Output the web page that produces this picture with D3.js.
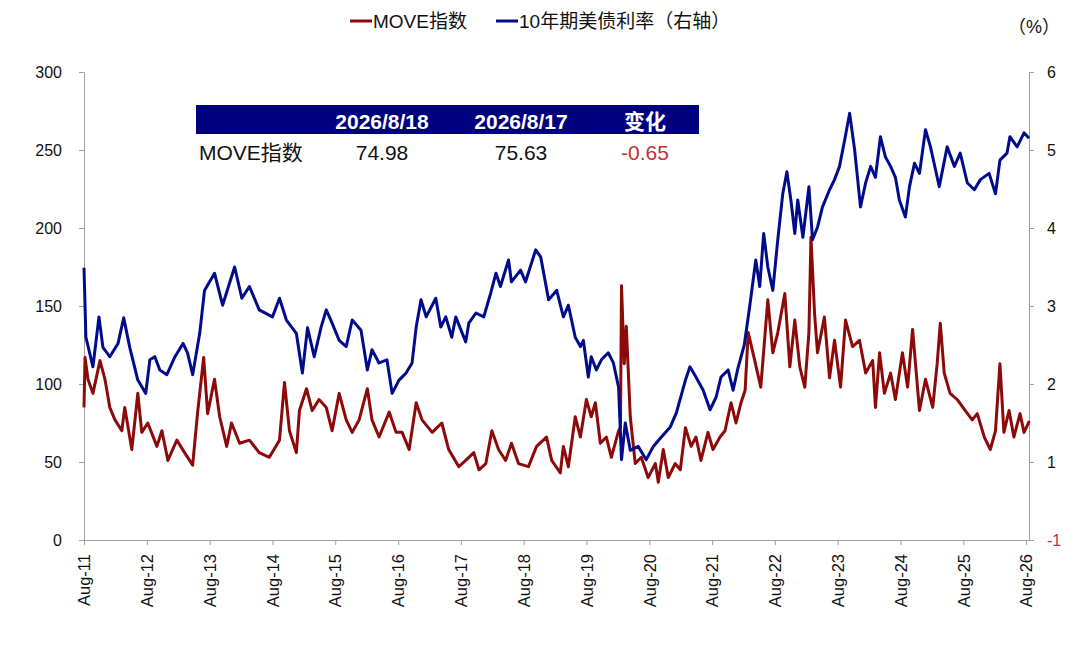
<!DOCTYPE html>
<html lang="zh">
<head>
  <meta charset="UTF-8">
  <title>MOVE指数与10年期美债利率</title>
  <script src="https://cdnjs.cloudflare.com/ajax/libs/d3/7.8.5/d3.min.js"></script>
  <style>
    body { margin: 0; background: white; }
    svg { display: block; }
    text { font-family: "Liberation Sans", Arial, "Noto Sans CJK SC", sans-serif; }
  </style>
</head>
<body>
  <script>
    // MOVE指数（左轴）
    var moveSeries = [
      ["2011-08-01", 85], ["2011-08-07", 117], ["2011-08-24", 103], ["2011-09-22", 94],
      ["2011-11-02", 115], ["2011-12-01", 103], ["2011-12-29", 85], ["2012-01-28", 77],
      ["2012-03-08", 70], ["2012-03-25", 85], ["2012-05-05", 58], ["2012-06-09", 94],
      ["2012-07-02", 69], ["2012-08-06", 75], ["2012-09-28", 60], ["2012-10-27", 70],
      ["2012-12-01", 51], ["2013-01-22", 64], ["2013-03-08", 56], ["2013-04-24", 48],
      ["2013-05-22", 81], ["2013-06-27", 117], ["2013-07-20", 81], ["2013-08-29", 103],
      ["2013-09-28", 79], ["2013-11-08", 60], ["2013-12-06", 75], ["2014-01-22", 62],
      ["2014-03-20", 64], ["2014-05-16", 56], ["2014-07-14", 53], ["2014-09-11", 64],
      ["2014-10-10", 101], ["2014-11-08", 70], ["2014-12-18", 56], ["2015-01-05", 83],
      ["2015-02-15", 97], ["2015-03-20", 83], ["2015-04-29", 90], ["2015-06-10", 85],
      ["2015-07-14", 70], ["2015-08-24", 94], ["2015-10-04", 77], ["2015-11-08", 69],
      ["2015-12-18", 77], ["2016-02-04", 97], ["2016-03-02", 77], ["2016-04-12", 66],
      ["2016-06-10", 82], ["2016-07-20", 69], ["2016-08-24", 69], ["2016-10-04", 58],
      ["2016-11-14", 88], ["2016-12-18", 77], ["2017-02-15", 69], ["2017-04-12", 75],
      ["2017-05-22", 58], ["2017-07-20", 47], ["2017-08-29", 51], ["2017-10-15", 56],
      ["2017-11-14", 45], ["2017-12-24", 49], ["2018-01-28", 70], ["2018-03-08", 58],
      ["2018-04-18", 51], ["2018-05-22", 62], ["2018-07-02", 49], ["2018-08-29", 47],
      ["2018-10-15", 60], ["2018-12-12", 66], ["2019-01-11", 51], ["2019-03-02", 43],
      ["2019-03-20", 60], ["2019-04-18", 47], ["2019-05-28", 79], ["2019-06-27", 66],
      ["2019-08-01", 90], ["2019-08-29", 79], ["2019-09-22", 88], ["2019-10-21", 62],
      ["2019-11-25", 66], ["2019-12-24", 53], ["2020-02-04", 70], ["2020-02-15", 72],
      ["2020-02-21", 163], ["2020-03-08", 113], ["2020-03-20", 137], ["2020-04-12", 79],
      ["2020-05-11", 49], ["2020-06-15", 53], ["2020-07-25", 40], ["2020-09-05", 49],
      ["2020-09-22", 37], ["2020-10-21", 58], ["2020-11-19", 40], ["2020-12-29", 49],
      ["2021-01-28", 45], ["2021-02-27", 72], ["2021-04-01", 60], ["2021-04-29", 66],
      ["2021-05-28", 51], ["2021-07-08", 69], ["2021-08-06", 58], ["2021-09-16", 66],
      ["2021-10-15", 70], ["2021-11-19", 88], ["2021-12-18", 75], ["2022-01-16", 88],
      ["2022-02-09", 96], ["2022-02-27", 133], ["2022-04-06", 115], ["2022-05-11", 98],
      ["2022-06-21", 154], ["2022-07-20", 120], ["2022-08-18", 133], ["2022-09-28", 158],
      ["2022-10-27", 111], ["2022-11-25", 141], ["2022-12-24", 111], ["2023-01-22", 98],
      ["2023-02-15", 133], ["2023-02-27", 194], ["2023-03-20", 145], ["2023-04-06", 120],
      ["2023-05-16", 143], ["2023-06-15", 104], ["2023-07-14", 128], ["2023-08-18", 98],
      ["2023-09-16", 141], ["2023-10-27", 124], ["2023-12-06", 128], ["2024-01-11", 107],
      ["2024-02-21", 115], ["2024-03-08", 85], ["2024-04-01", 120], ["2024-04-29", 94],
      ["2024-06-04", 107], ["2024-07-02", 90], ["2024-08-12", 120], ["2024-09-11", 98],
      ["2024-10-10", 135], ["2024-11-19", 83], ["2024-12-24", 103], ["2025-02-04", 85],
      ["2025-03-02", 113], ["2025-03-20", 139], ["2025-04-12", 107], ["2025-05-16", 94],
      ["2025-06-27", 90], ["2025-08-12", 83], ["2025-09-22", 77], ["2025-10-21", 81],
      ["2025-12-01", 66], ["2026-01-05", 58], ["2026-02-04", 70], ["2026-03-02", 113],
      ["2026-03-25", 69], ["2026-04-24", 83], ["2026-05-22", 66], ["2026-06-27", 81],
      ["2026-07-20", 69], ["2026-08-17", 75.63], ["2026-08-18", 74.98]
    ];

    // 10年期美债利率（右轴，%）
    var yieldSeries = [
      ["2011-08-01", 3.49], ["2011-08-12", 2.6], ["2011-09-22", 2.22], ["2011-10-27", 2.86],
      ["2011-11-19", 2.47], ["2011-12-29", 2.35], ["2012-02-15", 2.52], ["2012-03-19", 2.85],
      ["2012-04-23", 2.47], ["2012-06-09", 2.05], ["2012-07-25", 1.88], ["2012-08-18", 2.31],
      ["2012-09-16", 2.35], ["2012-10-15", 2.18], ["2012-11-25", 2.12], ["2013-01-11", 2.35],
      ["2013-02-27", 2.52], ["2013-03-25", 2.4], ["2013-04-24", 2.12], ["2013-06-04", 2.65],
      ["2013-07-02", 3.2], ["2013-08-29", 3.42], ["2013-10-15", 3.01], ["2013-12-24", 3.5],
      ["2014-02-04", 3.1], ["2014-03-20", 3.25], ["2014-05-16", 2.95], ["2014-08-01", 2.86],
      ["2014-09-11", 3.1], ["2014-10-21", 2.82], ["2014-12-18", 2.65], ["2015-01-22", 2.14],
      ["2015-02-21", 2.72], ["2015-04-01", 2.35], ["2015-05-11", 2.73], ["2015-06-10", 2.95],
      ["2015-07-14", 2.78], ["2015-08-24", 2.56], ["2015-10-04", 2.48], ["2015-11-08", 2.82],
      ["2015-12-29", 2.69], ["2016-02-04", 2.18], ["2016-03-02", 2.44], ["2016-04-12", 2.27],
      ["2016-05-28", 2.31], ["2016-06-27", 1.88], ["2016-08-06", 2.05], ["2016-09-16", 2.14],
      ["2016-10-21", 2.27], ["2016-11-14", 2.73], ["2016-12-12", 3.08], ["2017-01-11", 2.86],
      ["2017-03-08", 3.1], ["2017-04-06", 2.73], ["2017-05-05", 2.86], ["2017-06-09", 2.6],
      ["2017-07-02", 2.86], ["2017-08-29", 2.54], ["2017-09-16", 2.78], ["2017-10-27", 2.91],
      ["2017-12-12", 2.86], ["2018-01-22", 3.17], ["2018-02-21", 3.42], ["2018-03-19", 3.25],
      ["2018-05-05", 3.59], ["2018-05-22", 3.31], ["2018-07-14", 3.46], ["2018-08-12", 3.31],
      ["2018-10-10", 3.72], ["2018-11-08", 3.63], ["2018-12-24", 3.08], ["2019-02-09", 3.2],
      ["2019-03-20", 2.86], ["2019-04-18", 3.01], ["2019-05-28", 2.6], ["2019-06-27", 2.48],
      ["2019-07-14", 2.56], ["2019-08-12", 2.09], ["2019-08-29", 2.35], ["2019-09-28", 2.18],
      ["2019-10-27", 2.31], ["2019-12-06", 2.4], ["2020-01-05", 2.27], ["2020-02-04", 1.96],
      ["2020-02-21", 1.03], ["2020-03-14", 1.5], ["2020-04-12", 1.15], ["2020-05-28", 1.2],
      ["2020-07-14", 1.03], ["2020-08-24", 1.2], ["2020-10-10", 1.32], ["2020-12-01", 1.45],
      ["2021-01-05", 1.63], ["2021-02-27", 2.05], ["2021-03-25", 2.22], ["2021-04-29", 2.09],
      ["2021-06-10", 1.92], ["2021-07-20", 1.67], ["2021-08-24", 1.83], ["2021-09-22", 2.09],
      ["2021-11-02", 2.18], ["2021-12-01", 1.92], ["2021-12-29", 2.2], ["2022-02-04", 2.5],
      ["2022-03-08", 3.0], ["2022-04-12", 3.59], ["2022-05-05", 3.25], ["2022-05-28", 3.93],
      ["2022-06-21", 3.5], ["2022-07-20", 3.2], ["2022-08-18", 3.85], ["2022-09-16", 4.44],
      ["2022-10-10", 4.72], ["2022-11-02", 4.36], ["2022-11-25", 3.93], ["2022-12-12", 4.36],
      ["2023-01-11", 3.88], ["2023-02-15", 4.53], ["2023-03-08", 3.85], ["2023-04-06", 4.01],
      ["2023-05-05", 4.27], ["2023-06-15", 4.49], ["2023-07-14", 4.62], ["2023-08-12", 4.79],
      ["2023-09-11", 5.13], ["2023-10-10", 5.47], ["2023-11-08", 5.0], ["2023-12-12", 4.27],
      ["2024-01-11", 4.58], ["2024-02-09", 4.79], ["2024-03-08", 4.65], ["2024-04-06", 5.17],
      ["2024-05-05", 4.91], ["2024-06-04", 4.79], ["2024-07-02", 4.65], ["2024-07-25", 4.36],
      ["2024-08-29", 4.14], ["2024-09-22", 4.53], ["2024-10-21", 4.83], ["2024-11-19", 4.7],
      ["2024-12-24", 5.26], ["2025-01-22", 5.04], ["2025-02-21", 4.74], ["2025-03-14", 4.53],
      ["2025-04-29", 5.04], ["2025-06-10", 4.79], ["2025-07-14", 4.96], ["2025-08-24", 4.58],
      ["2025-10-04", 4.49], ["2025-11-08", 4.62], ["2025-12-29", 4.7], ["2026-02-04", 4.44],
      ["2026-03-02", 4.87], ["2026-04-12", 4.96], ["2026-04-29", 5.17], ["2026-06-10", 5.04],
      ["2026-07-20", 5.22], ["2026-08-18", 5.15]
    ];

    var leftTicks = [0, 50, 100, 150, 200, 250, 300];
    var rightTicks = [0, 1, 2, 3, 4, 5, 6];
    var rightTickLabels = ["-1", "1", "2", "3", "4", "5", "6"];
    var seriesNames = ["MOVE指数", "10年期美债利率（右轴）"];
    var tableHeader = ["", "2026/8/18", "2026/8/17", "变化"];
    var tableRow = ["MOVE指数", "74.98", "75.63", "-0.65"];

    var w = 1080, h = 662;
    var margin = { top: 72, right: 51, bottom: 122, left: 84 };
    var red = "#8c0a0a", blue = "#000c8c";

    var parse = d3.timeParse("%Y-%m-%d");
    var moveData = moveSeries.map(function(d) { return { date: parse(d[0]), v: d[1] }; });
    var yieldData = yieldSeries.map(function(d) { return { date: parse(d[0]), v: d[1] }; });

    var svg = d3.select("body").append("svg")
      .attr("width", w)
      .attr("height", h);

    var x = d3.scaleTime()
      .domain([parse("2011-08-01"), parse("2026-08-18")])
      .range([margin.left, w - margin.right]);

    var yLeft = d3.scaleLinear().domain([0, 300]).range([h - margin.bottom, margin.top]);
    var yRight = d3.scaleLinear().domain([0, 6]).range([h - margin.bottom, margin.top]);

    var xTicks = d3.range(2011, 2027).map(function(y) { return new Date(y, 7, 1); });

    // axes
    var axisColor = "#a0a0a0";

    var gx = svg.append("g")
      .attr("transform", "translate(0," + (h - margin.bottom) + ")")
      .call(d3.axisBottom(x).tickValues(xTicks).tickSize(5).tickSizeOuter(0)
        .tickFormat(d3.timeFormat("Aug-%y")));
    gx.selectAll("text")
      .attr("transform", "rotate(-90)")
      .attr("text-anchor", "end")
      .attr("dx", "-14px")
      .attr("dy", "0.35em")
      .attr("x", 0)
      .attr("y", 0)
      .style("font-size", "16.5px")
      .style("fill", "#111");

    var gl = svg.append("g")
      .attr("transform", "translate(" + margin.left + ",0)")
      .call(d3.axisLeft(yLeft).tickValues(leftTicks).tickSize(5).tickSizeOuter(0));
    gl.selectAll("text").attr("x", -22).style("font-size", "16px").style("fill", "#111");

    var gr = svg.append("g")
      .attr("transform", "translate(" + (w - margin.right) + ",0)")
      .call(d3.axisRight(yRight).tickValues(rightTicks).tickSize(5).tickSizeOuter(0)
        .tickFormat(function(d, i) { return rightTickLabels[i]; }));
    gr.selectAll("text").attr("x", 18).style("font-size", "16px")
      .style("fill", function(d) { return d === 0 ? "#c0303a" : "#111"; });

    svg.selectAll(".domain, .tick line").attr("stroke", axisColor);

    // lines
    var lineMove = d3.line().x(function(d) { return x(d.date); }).y(function(d) { return yLeft(d.v); });
    var lineYield = d3.line().x(function(d) { return x(d.date); }).y(function(d) { return yRight(d.v); });

    svg.append("path")
      .datum(moveData)
      .attr("fill", "none")
      .attr("stroke", red)
      .attr("stroke-width", 3)
      .attr("stroke-linejoin", "round")
      .attr("d", lineMove);

    svg.append("path")
      .datum(yieldData)
      .attr("fill", "none")
      .attr("stroke", blue)
      .attr("stroke-width", 3)
      .attr("stroke-linejoin", "round")
      .attr("d", lineYield);

    // legend
    var legend = svg.append("g").attr("class", "legend");
    var legendX = [350, 496];
    [red, blue].forEach(function(c, i) {
      legend.append("line")
        .attr("x1", legendX[i]).attr("x2", legendX[i] + 22)
        .attr("y1", 21).attr("y2", 21)
        .attr("stroke", c).attr("stroke-width", 3);
      legend.append("text")
        .attr("x", legendX[i] + 23).attr("y", 28)
        .style("font-size", "19px").style("fill", "#111")
        .text(seriesNames[i]);
    });

    svg.append("text")
      .attr("x", 1060).attr("y", 33)
      .attr("text-anchor", "end")
      .style("font-size", "18px").style("fill", "#111")
      .text("（%）");

    // table
    var colX = [199, 382, 521, 645];
    svg.append("rect")
      .attr("x", 196).attr("y", 105)
      .attr("width", 503).attr("height", 29)
      .attr("fill", "#00007f");

    tableHeader.forEach(function(t, i) {
      if (!t) return;
      svg.append("text")
        .attr("x", colX[i]).attr("y", 129)
        .attr("text-anchor", "middle")
        .style("font-size", "21px").style("font-weight", "bold").style("fill", "white")
        .text(t);
    });

    tableRow.forEach(function(t, i) {
      svg.append("text")
        .attr("x", i === 0 ? colX[0] : colX[i])
        .attr("y", 160)
        .attr("text-anchor", i === 0 ? "start" : "middle")
        .style("font-size", "21px")
        .style("fill", i === 3 ? "#c0303a" : "#111")
        .text(t);
    });
  </script>
</body>
</html>
